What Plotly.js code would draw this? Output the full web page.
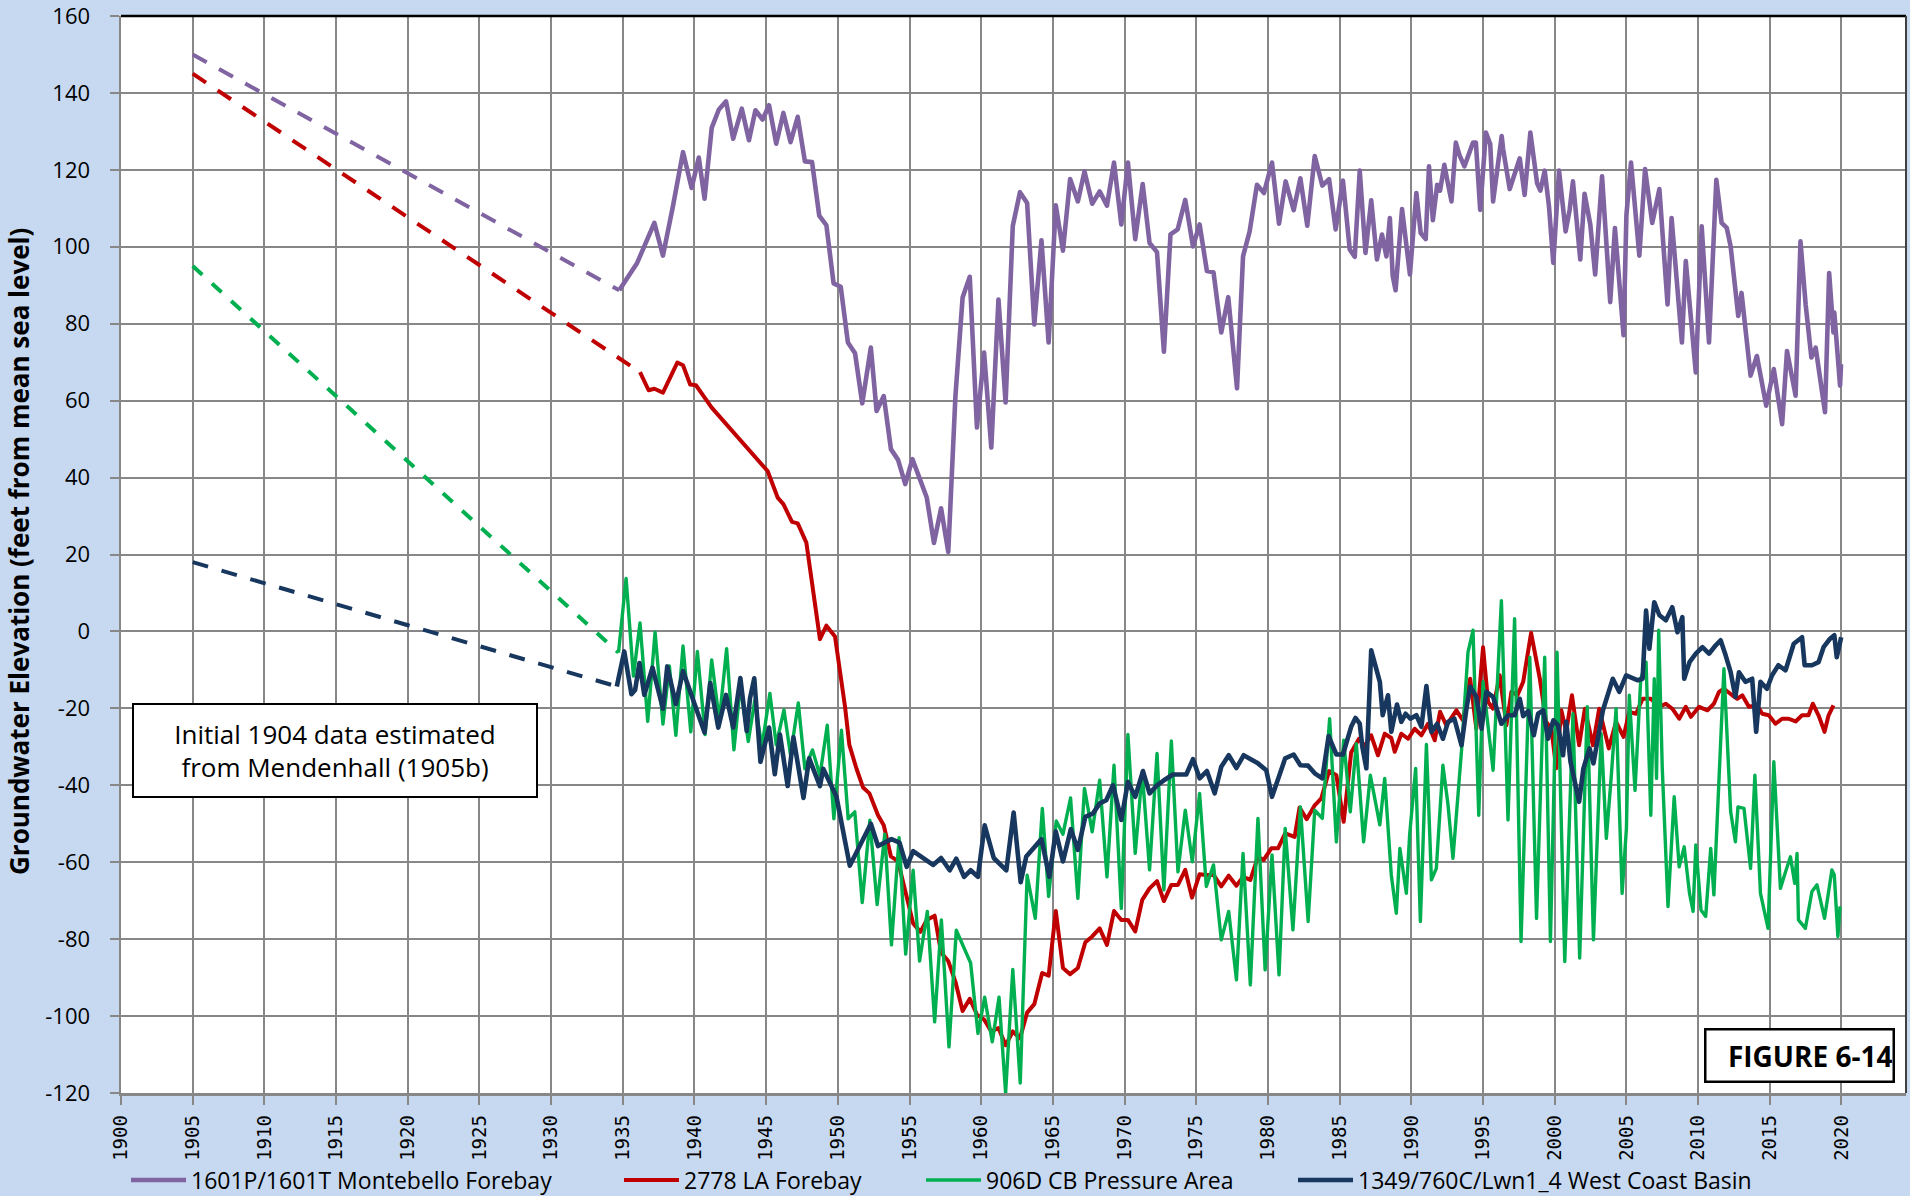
<!DOCTYPE html>
<html>
<head>
<meta charset="utf-8">
<script src="https://cdn.plot.ly/plotly-3.0.1.min.js"></script>
<style>
  html, body { margin: 0; padding: 0; background: #C6D9F1; }
  #chart { width: 1910px; height: 1196px; }
  .scatterlayer .js-line { stroke-linejoin: round; }
</style>
</head>
<body>
<div id="chart"></div>
<script>
// ---------------- DATA ----------------
const seriesNames = [
  "1601P/1601T Montebello Forebay",
  "2778 LA Forebay",
  "906D CB Pressure Area",
  "1349/760C/Lwn1_4 West Coast Basin"
];

// Initial 1904 estimates (Mendenhall 1905b) joined to first measurement (dashed)
const montebelloEstYears = [1905, 1934.75];
const montebelloEstLevels = [150, 88.7];
const laForebayEstYears = [1905, 1936.2];
const laForebayEstLevels = [145, 67.4];
const pressureEstYears = [1905, 1934.7];
const pressureEstLevels = [95, -5.5];
const westCoastEstYears = [1905, 1934.58];
const westCoastEstLevels = [18, -14.3];

// 1601P/1601T Montebello Forebay
const montebelloYears = [1934.75,1936.0,1937.2,1937.8,1938.5,1939.2,1939.8,1940.3,1940.7,1941.2,1941.7,1942.2,1942.7,1943.3,1943.8,1944.25,1944.75,1945.2,1945.7,1946.2,1946.7,1947.2,1947.7,1948.2,1948.7,1949.2,1949.7,1950.2,1950.7,1951.2,1951.7,1952.3,1952.7,1953.2,1953.7,1954.2,1954.7,1955.2,1956.2,1956.7,1957.2,1957.7,1958.2,1958.7,1959.2,1959.7,1960.2,1960.7,1961.2,1961.7,1962.2,1962.7,1963.2,1963.7,1964.2,1964.7,1965.2,1965.7,1966.2,1966.74,1967.2,1967.74,1968.26,1968.77,1969.26,1969.77,1970.23,1970.74,1971.26,1971.74,1972.26,1972.74,1973.2,1973.7,1974.23,1974.77,1975.23,1975.74,1976.2,1976.74,1977.23,1977.84,1978.26,1978.72,1979.23,1979.72,1980.28,1980.77,1981.23,1981.79,1982.26,1982.74,1983.26,1983.79,1984.26,1984.72,1985.23,1985.7,1986.05,1986.4,1986.8,1987.2,1987.6,1987.95,1988.26,1988.5,1988.7,1988.9,1989.35,1989.9,1990.35,1990.65,1991.0,1991.23,1991.5,1991.8,1992.0,1992.3,1992.5,1992.8,1993.1,1993.35,1993.7,1994.0,1994.3,1994.5,1994.8,1995.2,1995.5,1995.7,1996.3,1996.4,1996.86,1997.56,1997.9,1998.3,1998.77,1999.0,1999.3,1999.6,1999.9,2000.3,2000.76,2001.04,2001.27,2001.78,2002.08,2002.48,2002.82,2003.3,2003.87,2004.2,2004.8,2005.0,2005.32,2005.9,2006.3,2006.8,2007.3,2007.87,2008.15,2008.87,2009.14,2009.84,2010.25,2010.76,2011.27,2011.64,2012.0,2012.27,2012.8,2013.03,2013.66,2014.1,2014.75,2015.28,2015.86,2016.2,2016.8,2017.14,2017.5,2017.9,2018.2,2018.85,2019.14,2019.44,2019.5,2019.9,2019.97];
const montebelloLevels = [88.7,95.8,106.2,97.7,110.6,124.6,115.3,123.2,112.5,130.9,135.7,137.8,128.1,135.9,127.7,135.5,133.1,136.8,126.8,134.8,127.2,133.8,122.2,122.0,108.1,105.6,90.5,89.6,75.1,72.3,59.3,73.8,57.3,61.2,47.4,44.6,38.3,44.8,34.8,23.0,32.0,20.7,61.2,86.8,92.2,53.0,72.5,47.8,86.3,59.5,105.4,114.2,111.4,79.8,101.7,75.1,110.8,99.0,117.6,111.8,119.6,111.2,114.4,110.7,121.9,105.8,121.9,102.0,116.3,101.0,98.6,72.7,103.2,104.5,112.2,100.1,105.8,93.7,93.4,77.7,86.9,63.2,97.5,104.0,116.1,114.0,121.9,106.0,117.0,109.5,117.8,105.5,123.6,115.9,117.6,104.5,117.2,99.3,97.4,119.8,98.4,112.1,96.7,103.2,97.5,107.5,92.4,88.7,109.8,92.8,114.0,103.6,102.0,120.9,106.9,116.1,114.6,121.3,117.4,111.8,127.1,123.9,120.9,123.9,127.1,127.1,109.6,129.7,126.7,111.8,128.8,125.4,115.0,123.0,113.5,129.7,116.5,114.6,119.8,110.5,95.8,119.8,104.0,109.6,117.0,96.7,113.8,105.8,92.8,118.3,85.6,104.9,77.0,108.3,121.9,97.7,120.2,106.2,115.0,85.0,107.5,75.1,96.3,67.3,105.3,75.1,117.4,106.2,104.9,100.1,82.0,88.0,66.5,71.6,58.7,68.2,53.9,72.9,61.3,101.4,85.0,71.2,73.8,57.0,93.2,77.7,82.9,63.9,69.5];

// 2778 LA Forebay
const laForebayYears = [1936.2,1936.8,1937.2,1937.8,1938.8,1939.2,1939.7,1940.1,1941.2,1945.1,1945.8,1946.2,1946.8,1947.2,1947.8,1948.75,1949.2,1949.8,1950.5,1950.8,1951.3,1951.76,1952.2,1952.8,1953.2,1953.7,1954.2,1954.7,1955.25,1955.76,1956.2,1956.75,1957.2,1957.7,1958.2,1958.7,1959.2,1959.7,1960.2,1960.7,1961.2,1961.7,1962.2,1962.7,1963.2,1963.7,1964.25,1964.7,1965.2,1965.7,1966.2,1966.74,1967.26,1967.74,1968.26,1968.77,1969.26,1969.77,1970.23,1970.74,1971.23,1971.74,1972.26,1972.74,1973.26,1973.72,1974.23,1974.7,1975.23,1975.7,1976.2,1976.74,1977.26,1977.8,1978.26,1978.77,1979.3,1979.7,1980.23,1980.7,1981.2,1981.86,1982.2,1982.7,1983.26,1983.72,1984.26,1984.77,1985.28,1985.8,1986.35,1986.74,1987.2,1987.67,1988.14,1988.6,1988.84,1989.3,1989.77,1990.23,1990.7,1991.16,1991.63,1992.0,1992.44,1993.14,1993.6,1994.1,1994.53,1995.0,1995.35,1995.7,1996.16,1996.63,1996.98,1997.4,1997.8,1998.35,1998.96,1999.4,1999.77,2000.1,2000.46,2000.8,2001.2,2001.7,2002.1,2002.66,2003.1,2003.77,2004.28,2004.8,2005.2,2005.67,2006.13,2006.7,2007.3,2007.75,2008.2,2008.68,2009.14,2009.5,2010.07,2010.65,2011.1,2011.46,2011.8,2012.38,2012.73,2013.08,2013.54,2014.12,2014.47,2014.93,2015.4,2015.86,2016.32,2016.8,2017.25,2017.7,2018.0,2018.4,2018.82,2019.1,2019.44];
const laForebayLevels = [67.4,62.7,63.1,62.1,69.9,69.2,64.2,64.0,58.2,41.7,34.8,33.1,28.5,28.1,23.1,-2.0,1.5,-1.3,-19.6,-29.5,-35.7,-40.6,-42.1,-47.8,-50.4,-58.5,-59.8,-67.9,-75.9,-78.1,-75.0,-73.9,-83.5,-85.7,-91.1,-98.7,-95.5,-99.6,-100.9,-104.0,-103.1,-107.6,-104.0,-105.8,-99.1,-96.9,-88.8,-89.5,-72.7,-87.5,-89.1,-87.5,-80.8,-79.3,-77.2,-81.5,-72.7,-75.0,-75.0,-78.0,-69.8,-66.8,-64.9,-70.1,-65.9,-65.9,-62.0,-69.2,-63.1,-63.3,-63.3,-66.3,-63.5,-66.1,-63.8,-64.6,-58.6,-59.4,-56.4,-56.4,-52.5,-53.4,-45.8,-48.8,-45.2,-43.4,-36.3,-37.4,-49.5,-31.5,-27.9,-29.8,-27.0,-32.2,-26.6,-27.7,-31.3,-26.6,-27.9,-25.3,-27.0,-24.0,-28.3,-20.9,-24.4,-20.5,-23.1,-12.3,-25.3,-4.1,-18.3,-20.1,-11.4,-24.4,-15.7,-16.6,-13.1,-0.4,-12.3,-23.5,-25.3,-35.6,-20.5,-26.1,-16.6,-29.6,-20.1,-29.6,-20.1,-30.4,-23.5,-27.4,-20.9,-21.4,-17.5,-17.5,-19.6,-18.8,-20.1,-22.7,-19.6,-22.2,-19.6,-20.5,-18.8,-15.7,-14.9,-16.6,-17.5,-16.6,-19.6,-19.2,-21.4,-21.8,-24.0,-22.7,-22.7,-23.4,-21.8,-21.8,-18.8,-21.8,-26.1,-21.8,-19.2];

// 906D CB Pressure Area
const pressureYears = [1934.7,1935.23,1935.74,1936.2,1936.74,1937.25,1937.8,1938.25,1938.7,1939.2,1939.74,1940.2,1940.74,1941.2,1941.73,1942.24,1942.75,1943.2,1943.75,1944.2,1944.7,1945.26,1945.7,1946.24,1946.7,1947.24,1947.7,1948.23,1948.75,1949.26,1949.72,1950.25,1950.72,1951.18,1951.7,1952.23,1952.74,1953.27,1953.74,1954.27,1954.73,1955.25,1955.7,1956.24,1956.75,1957.22,1957.75,1958.26,1959.26,1959.77,1960.24,1960.77,1961.24,1961.7,1962.2,1962.72,1963.2,1963.77,1964.26,1964.7,1965.23,1965.7,1966.23,1966.74,1967.2,1967.74,1968.26,1968.77,1969.26,1969.77,1970.23,1970.74,1971.23,1971.74,1972.26,1972.74,1973.26,1973.72,1974.23,1974.72,1975.23,1975.7,1976.2,1976.74,1977.26,1977.8,1978.26,1978.77,1979.3,1979.8,1980.28,1980.77,1981.2,1981.74,1982.26,1982.8,1983.26,1983.79,1984.3,1984.77,1985.28,1985.74,1986.16,1986.67,1987.14,1987.44,1987.8,1988.14,1988.6,1988.95,1989.2,1989.65,1989.88,1990.3,1990.63,1991.05,1991.4,1991.74,1992.2,1992.56,1992.9,1993.5,1993.95,1994.3,1994.7,1995.0,1995.7,1996.28,1996.74,1997.2,1997.65,1998.26,1998.73,1999.3,1999.7,2000.16,2000.7,2001.27,2001.74,2002.27,2002.7,2003.24,2003.6,2003.94,2004.28,2004.7,2005.0,2005.2,2005.6,2006.0,2006.37,2006.7,2006.94,2007.1,2007.25,2007.5,2007.9,2008.33,2008.68,2009.03,2009.4,2009.65,2009.84,2010.2,2010.53,2010.88,2011.1,2011.46,2011.8,2012.27,2012.6,2012.78,2013.2,2013.66,2013.96,2014.35,2014.88,2015.28,2015.74,2016.1,2016.44,2016.74,2016.9,2017.0,2017.48,2017.94,2018.29,2018.82,2019.33,2019.5,2019.75,2019.9];
const pressureLevels = [-5.5,13.8,-11.6,2.2,-23.4,-0.2,-24.1,-9.0,-27.0,-3.8,-26.1,-5.2,-26.8,-7.4,-23.2,-4.5,-30.8,-14.0,-28.6,-18.0,-30.0,-16.1,-29.5,-20.4,-32.1,-18.6,-35.7,-30.8,-37.5,-24.4,-48.7,-25.7,-48.7,-46.9,-70.5,-49.1,-71.0,-52.7,-81.5,-53.6,-83.9,-62.1,-85.7,-72.8,-101.5,-75.0,-108.0,-77.7,-86.2,-104.5,-95.1,-106.7,-95.1,-120.0,-87.9,-117.4,-63.4,-74.6,-46.0,-68.9,-49.3,-52.7,-43.3,-69.4,-40.8,-52.1,-38.7,-63.8,-34.8,-72.0,-26.8,-57.7,-36.5,-62.0,-31.7,-67.2,-28.5,-62.5,-46.5,-59.9,-42.1,-66.3,-60.7,-80.2,-72.8,-90.6,-57.7,-91.9,-48.6,-88.0,-58.1,-89.3,-51.2,-77.6,-45.6,-75.4,-46.5,-48.6,-22.7,-54.7,-28.3,-46.9,-29.2,-54.7,-37.4,-43.4,-50.3,-38.2,-63.3,-73.3,-56.4,-68.1,-52.9,-35.6,-75.4,-29.4,-64.6,-61.6,-34.8,-45.2,-59.0,-30.9,-5.4,0.3,-47.8,-13.1,-36.1,8.0,-49.0,3.3,-80.6,-6.7,-74.6,-6.7,-80.6,-5.4,-85.8,-21.4,-84.9,-19.6,-80.2,-26.6,-53.8,-37.8,-20.1,-68.1,-51.2,-16.6,-41.3,-12.3,-8.0,-47.8,-12.3,-38.2,0.3,-35.6,-71.5,-43.0,-61.2,-56.0,-68.1,-72.8,-55.5,-72.4,-74.1,-56.4,-68.5,-38.2,-9.7,-46.9,-54.7,-45.6,-46.0,-61.6,-37.4,-68.1,-77.2,-33.9,-66.8,-62.5,-58.6,-65.5,-57.7,-75.0,-77.2,-67.6,-65.9,-74.6,-62.0,-63.3,-79.3,-71.5];

// 1349/760C/Lwn1_4 West Coast Basin
const westCoastYears = [1934.58,1935.1,1935.6,1935.86,1936.16,1936.5,1937.07,1937.8,1938.1,1938.7,1939.2,1940.7,1941.1,1941.66,1942.2,1942.7,1943.2,1943.64,1943.87,1944.17,1944.6,1945.2,1945.6,1945.96,1946.5,1946.9,1947.6,1948.0,1948.75,1948.98,1949.9,1950.83,1952.3,1952.8,1953.74,1954.3,1954.8,1955.25,1956.64,1957.2,1957.8,1958.26,1958.8,1959.26,1959.77,1960.24,1960.87,1961.75,1962.26,1962.75,1963.14,1964.2,1964.75,1965.2,1965.7,1966.25,1966.74,1967.26,1967.8,1968.26,1968.72,1969.19,1969.77,1970.23,1970.74,1971.28,1971.74,1972.26,1972.74,1973.37,1974.3,1974.77,1975.23,1975.74,1976.28,1976.74,1977.26,1977.8,1978.3,1979.3,1979.88,1980.28,1981.2,1981.79,1982.26,1982.8,1983.26,1983.79,1984.23,1984.77,1985.23,1985.8,1986.1,1986.4,1986.58,1986.86,1987.2,1987.44,1987.6,1987.8,1988.0,1988.37,1988.6,1989.0,1989.3,1989.6,1989.93,1990.35,1990.7,1991.05,1991.4,1991.8,1992.2,1992.56,1993.0,1993.5,1993.84,1994.1,1994.53,1994.9,1995.23,1995.7,1996.28,1996.74,1997.2,1997.56,1997.8,1998.15,1998.54,1998.84,1999.19,1999.54,1999.9,2000.23,2000.58,2000.8,2001.1,2001.4,2001.7,2002.0,2002.43,2002.7,2003.36,2004.05,2004.5,2004.98,2005.44,2005.8,2006.13,2006.25,2006.37,2006.6,2006.94,2007.3,2007.75,2008.2,2008.56,2008.9,2009.03,2009.4,2009.84,2010.3,2010.76,2011.23,2011.57,2011.92,2012.27,2012.6,2012.85,2013.3,2013.77,2014.05,2014.35,2014.8,2015.16,2015.6,2016.1,2016.67,2017.25,2017.43,2017.94,2018.4,2018.75,2019.2,2019.5,2019.67,2019.98];
const westCoastLevels = [-14.3,-5.2,-16.3,-15.2,-8.2,-16.5,-9.4,-20.1,-9.1,-18.9,-10.3,-26.3,-13.4,-25.0,-16.5,-25.0,-12.1,-25.9,-17.4,-12.2,-33.9,-25.0,-37.1,-26.8,-40.2,-27.5,-43.3,-33.0,-40.2,-35.7,-42.9,-60.9,-50.0,-55.8,-54.0,-54.9,-61.2,-57.1,-60.7,-58.9,-62.1,-59.1,-63.8,-62.1,-63.8,-50.4,-58.9,-62.1,-47.1,-65.2,-58.5,-54.0,-63.8,-52.0,-59.8,-51.4,-56.8,-48.2,-47.3,-44.7,-43.9,-40.0,-49.0,-39.1,-43.0,-36.3,-42.1,-40.0,-38.7,-37.2,-37.2,-33.2,-38.2,-36.3,-42.1,-35.2,-32.2,-35.5,-32.2,-34.3,-36.1,-43.0,-33.0,-32.0,-34.8,-34.9,-36.9,-38.2,-27.2,-32.0,-32.0,-24.8,-22.5,-24.0,-30.0,-35.6,-4.9,-8.4,-10.6,-13.1,-21.8,-16.6,-26.1,-19.0,-23.5,-21.4,-22.7,-21.8,-24.8,-14.2,-26.1,-24.0,-27.9,-23.5,-22.7,-29.6,-20.1,-14.4,-17.0,-25.3,-15.7,-17.0,-24.0,-21.8,-21.8,-17.5,-22.0,-20.7,-27.0,-21.4,-20.5,-27.9,-23.1,-24.4,-32.2,-23.5,-33.9,-39.1,-44.3,-35.6,-30.4,-34.3,-20.5,-12.3,-15.7,-11.4,-12.3,-12.7,-12.3,-4.1,5.4,-4.5,7.6,4.2,2.9,6.3,-0.2,3.7,-12.3,-8.0,-5.8,-4.1,-5.8,-3.6,-2.3,-6.2,-10.6,-17.0,-10.6,-13.1,-12.3,-26.1,-13.1,-14.9,-11.4,-8.8,-10.1,-3.2,-1.5,-8.8,-8.8,-8.0,-4.1,-1.9,-1.0,-6.7,-1.5];

// Tick labels
const xTickVals = [1900,1905,1910,1915,1920,1925,1930,1935,1940,1945,1950,1955,1960,1965,1970,1975,1980,1985,1990,1995,2000,2005,2010,2015,2020];
const xTickText = ["1900","1905","1910","1915","1920","1925","1930","1935","1940","1945","1950","1955","1960","1965","1970","1975","1980","1985","1990","1995","2000","2005","2010","2015","2020"];
const yTickVals = [-120,-100,-80,-60,-40,-20,0,20,40,60,80,100,120,140,160];
const yTickText = ["-120","-100","-80","-60","-40","-20","0","20","40","60","80","100","120","140","160"];

// ---------------- STYLE ----------------
const colors = ["#8064A2", "#C00000", "#00B050", "#17375E"];
const widths = [4.6, 4, 3.4, 4.6];
const estDash = ["16px,14px", "16px,14px", "13px,13px", "16px,14px"];
const legendIds = ["legend", "legend2", "legend3", "legend4"];
const legendX = [126, 619, 921, 1293];

const estYears = [montebelloEstYears, laForebayEstYears, pressureEstYears, westCoastEstYears];
const estLevels = [montebelloEstLevels, laForebayEstLevels, pressureEstLevels, westCoastEstLevels];
const obsYears = [montebelloYears, laForebayYears, pressureYears, westCoastYears];
const obsLevels = [montebelloLevels, laForebayLevels, pressureLevels, westCoastLevels];

const traces = [];
for (let i = 0; i < 4; i++) {
  traces.push({
    type: "scatter", mode: "lines",
    x: estYears[i], y: estLevels[i],
    line: { color: colors[i], width: 4, dash: estDash[i] },
    showlegend: false, hoverinfo: "skip"
  });
}
for (let i = 0; i < 4; i++) {
  traces.push({
    type: "scatter", mode: "lines",
    name: seriesNames[i],
    x: obsYears[i], y: obsLevels[i],
    line: { color: colors[i], width: widths[i] },
    legend: legendIds[i],
    showlegend: true
  });
}

const txtFont = "Open Sans, Liberation Sans, sans-serif";
const legendBase = (i) => ({
  x: legendX[i] / 1910, xref: "container", xanchor: "left",
  y: 1 - 1180 / 1196, yref: "container", yanchor: "middle",
  orientation: "h", bgcolor: "rgba(0,0,0,0)", borderwidth: 0,
  font: { family: txtFont, size: 23, color: "#000" },
  itemwidth: 55
});

const plotTop = 16, plotBottom = 1093, plotH = plotBottom - plotTop;
const gridColor = "#878787";
const layout = {
  width: 1910, height: 1196,
  paper_bgcolor: "#C6D9F1", plot_bgcolor: "#FFFFFF",
  margin: { l: 121, r: 4, t: plotTop, b: 1196 - plotBottom, pad: 0 },
  showlegend: true,
  legend: legendBase(0), legend2: legendBase(1), legend3: legendBase(2), legend4: legendBase(3),
  xaxis: {
    range: [1900, 2024.5], tickmode: "array", tickvals: xTickVals, ticktext: xTickText,
    tickangle: -90, showgrid: true, gridcolor: gridColor, gridwidth: 2,
    showline: true, linecolor: gridColor, linewidth: 2.5,
    ticks: "outside", ticklen: 9, tickwidth: 2, tickcolor: gridColor,
    tickfont: { family: "DejaVu Sans Mono, monospace", size: 19, color: "#000" },
    ticklabelstandoff: 3, ticklabeloverflow: "allow", zeroline: false, fixedrange: true
  },
  yaxis: {
    range: [-120.0001, 160.0001], tickmode: "array", tickvals: yTickVals, ticktext: yTickText,
    showgrid: true, gridcolor: gridColor, gridwidth: 2,
    showline: true, linecolor: gridColor, linewidth: 2.5,
    ticks: "outside", ticklen: 9, tickwidth: 2, tickcolor: gridColor,
    tickfont: { family: txtFont, size: 22, color: "#000" },
    ticklabelstandoff: 15, ticklabeloverflow: "allow", zeroline: false, fixedrange: true
  },
  shapes: [
    { type: "line", xref: "paper", yref: "paper", x0: 0, x1: 1, y0: 1, y1: 1, line: { color: "#000", width: 2.5 } },
    { type: "line", xref: "paper", yref: "paper", x0: 1, x1: 1, y0: 0, y1: 1, line: { color: "#404040", width: 2 } }
  ],
  annotations: [
    {
      text: "<b>Groundwater Elevation (feet from mean sea level)</b>",
      xref: "paper", yref: "paper", x: (19 - 121) / 1785, y: 1 - (552 - plotTop) / plotH,
      xanchor: "center", yanchor: "middle", textangle: -90, showarrow: false,
      font: { family: txtFont, size: 26, color: "#000" }
    },
    {
      text: "Initial 1904 data estimated<br>from Mendenhall (1905b)",
      xref: "paper", yref: "paper", x: (335 - 121) / 1785, y: 1 - (750.5 - plotTop) / plotH,
      xanchor: "center", yanchor: "middle", showarrow: false, align: "center",
      width: 402, height: 91, bgcolor: "#FFFFFF", bordercolor: "#000", borderwidth: 2, borderpad: 0,
      font: { family: txtFont, size: 26, color: "#000" }
    },
    {
      text: "<b>FIGURE 6-14</b>",
      xref: "paper", yref: "paper", x: (1799 - 121) / 1785, y: 1 - (1055 - plotTop) / plotH,
      xanchor: "center", yanchor: "middle", showarrow: false, align: "right",
      width: 186, height: 50, bgcolor: "#FFFFFF", bordercolor: "#000", borderwidth: 2.5, borderpad: 0,
      font: { family: txtFont, size: 28, color: "#000" }
    }
  ],
  hovermode: false
};

Plotly.newPlot("chart", traces, layout, { staticPlot: true, displayModeBar: false });
</script>
</body>
</html>
